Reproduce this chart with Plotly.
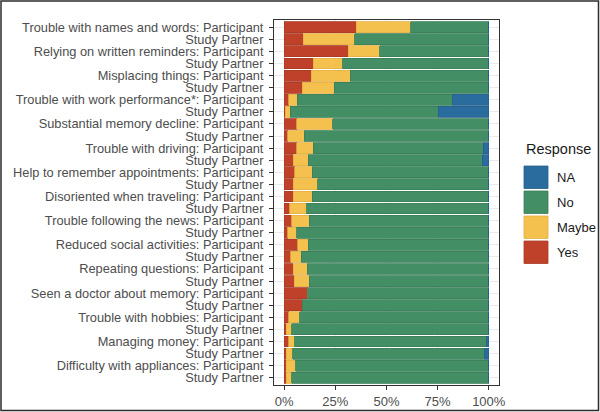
import plotly.graph_objects as go

labels = [
    "Trouble with names and words: Participant", "Study Partner",
    "Relying on written reminders: Participant", "Study Partner",
    "Misplacing things: Participant", "Study Partner",
    "Trouble with work performance*: Participant", "Study Partner",
    "Substantial memory decline: Participant", "Study Partner",
    "Trouble with driving: Participant", "Study Partner",
    "Help to remember appointments: Participant", "Study Partner",
    "Disoriented when traveling: Participant", "Study Partner",
    "Trouble following the news: Participant", "Study Partner",
    "Reduced social activities: Participant", "Study Partner",
    "Repeating questions: Participant", "Study Partner",
    "Seen a doctor about memory: Participant", "Study Partner",
    "Trouble with hobbies: Participant", "Study Partner",
    "Managing money: Participant", "Study Partner",
    "Difficulty with appliances: Participant", "Study Partner",
]

yes_vals = [35.3, 9.2, 31.3, 14.1, 13.1, 8.9, 2.3, 0.6, 6.0, 1.6,
            6.0, 4.5, 5.2, 4.5, 4.5, 2.6, 3.7, 1.6, 6.5, 3.2,
            4.5, 4.9, 11.5, 8.9, 2.3, 1.0, 2.1, 1.1, 1.0, 1.1]
maybe_vals = [26.6, 25.2, 15.4, 14.6, 19.2, 15.6, 4.0, 2.3, 17.8, 8.1,
              8.3, 7.3, 8.6, 12.0, 9.3, 8.4, 8.6, 4.4, 5.3, 5.2,
              6.7, 7.3, 0.0, 0.0, 5.2, 2.7, 3.1, 3.0, 4.7, 2.6]
no_vals = [38.1, 65.6, 53.3, 71.3, 67.7, 75.5, 76.0, 72.5, 76.2, 90.3,
           82.9, 85.1, 86.2, 83.5, 86.2, 89.0, 87.7, 94.0, 88.2, 91.6,
           88.8, 87.8, 88.5, 91.1, 92.5, 96.3, 93.8, 94.0, 94.3, 96.3]
na_vals = [0, 0, 0, 0, 0, 0, 17.7, 24.6, 0, 0,
           2.8, 3.1, 0, 0, 0, 0, 0, 0, 0, 0,
           0, 0, 0, 0, 0, 0, 1.0, 1.9, 0, 0]

responses = ["Yes", "Maybe", "No", "NA"]
colors = {"Yes": "#C0412A", "Maybe": "#F4C04E", "No": "#438E64", "NA": "#2B6C9E"}
edges = {"Yes": "#A93A25", "Maybe": "#E3B044", "No": "#3A7F59", "NA": "#255F8C"}
series = {"Yes": yes_vals, "Maybe": maybe_vals, "No": no_vals, "NA": na_vals}

x_ticks = [0, 25, 50, 75, 100]
x_ticktext = ["0%", "25%", "50%", "75%", "100%"]

ypos = list(range(len(labels)))

fig = go.Figure()
for r in responses:
    fig.add_trace(go.Bar(
        y=ypos, x=series[r], orientation="h", name=r,
        marker=dict(color=colors[r], line=dict(color=edges[r], width=0.8)),
        showlegend=False,
    ))

# plot area in pixels
L, R, T, B = 274, 101, 20, 27
W, H = 600 - L - R, 412 - T - B


def px(x):
    return (x - L) / W


def py(y):
    return (412 - B - y) / H


shapes = []
annotations = []
# outer frame
shapes.append(dict(type="rect", xref="paper", yref="paper",
                   x0=px(1), x1=px(598.5), y0=py(410.5), y1=py(1),
                   line=dict(color="#2b2b2b", width=1.5), layer="above"))
# manual legend
annotations.append(dict(xref="paper", yref="paper", x=px(524), y=py(149),
                        text="Response", showarrow=False, xanchor="left",
                        yanchor="middle", font=dict(size=14.5, color="#1a1a1a")))
legend_order = ["NA", "No", "Maybe", "Yes"]
for i, r in enumerate(legend_order):
    top = 166 + 25 * i
    shapes.append(dict(type="rect", xref="paper", yref="paper",
                       x0=px(524), x1=px(548), y0=py(top + 22.5), y1=py(top),
                       fillcolor=colors[r], line=dict(color=edges[r], width=0.8)))
    annotations.append(dict(xref="paper", yref="paper", x=px(555), y=py(top + 11.5),
                            text=r, showarrow=False, xanchor="left", yanchor="middle",
                            font=dict(size=13, color="#1a1a1a")))

fig.update_layout(
    width=600, height=412,
    margin=dict(l=L, r=R, t=T, b=B, pad=0, autoexpand=False),
    barmode="stack", bargap=0.1,
    plot_bgcolor="white", paper_bgcolor="white",
    font=dict(family="Liberation Sans, Arial, sans-serif", size=13, color="#4D4D4D"),
    shapes=shapes, annotations=annotations,
    showlegend=False,
)
fig.update_xaxes(
    range=[-5, 105], tickvals=x_ticks, ticktext=x_ticktext,
    ticks="outside", ticklen=4, tickcolor="#333333", tickwidth=1,
    showgrid=True, gridcolor="#EBEBEB", gridwidth=1, zeroline=False,
    showline=True, mirror=True, linecolor="#333333", linewidth=1,
    tickfont=dict(size=13, color="#4D4D4D"), automargin=False,
)
fig.update_yaxes(
    range=[len(labels) - 0.4, -0.6], tickvals=ypos, ticktext=labels,
    ticks="outside", ticklen=4, tickcolor="#333333", tickwidth=1,
    showgrid=True, gridcolor="#EBEBEB", gridwidth=1, zeroline=False,
    showline=True, mirror=True, linecolor="#333333", linewidth=1,
    tickfont=dict(size=12.8, color="#4D4D4D"), automargin=False,
    ticklabelstandoff=3,
)

fig.write_html(
    "out.html",
    config={"displayModeBar": False},
    post_script="document.body.style.margin='0';document.body.style.overflow='hidden';",
)
